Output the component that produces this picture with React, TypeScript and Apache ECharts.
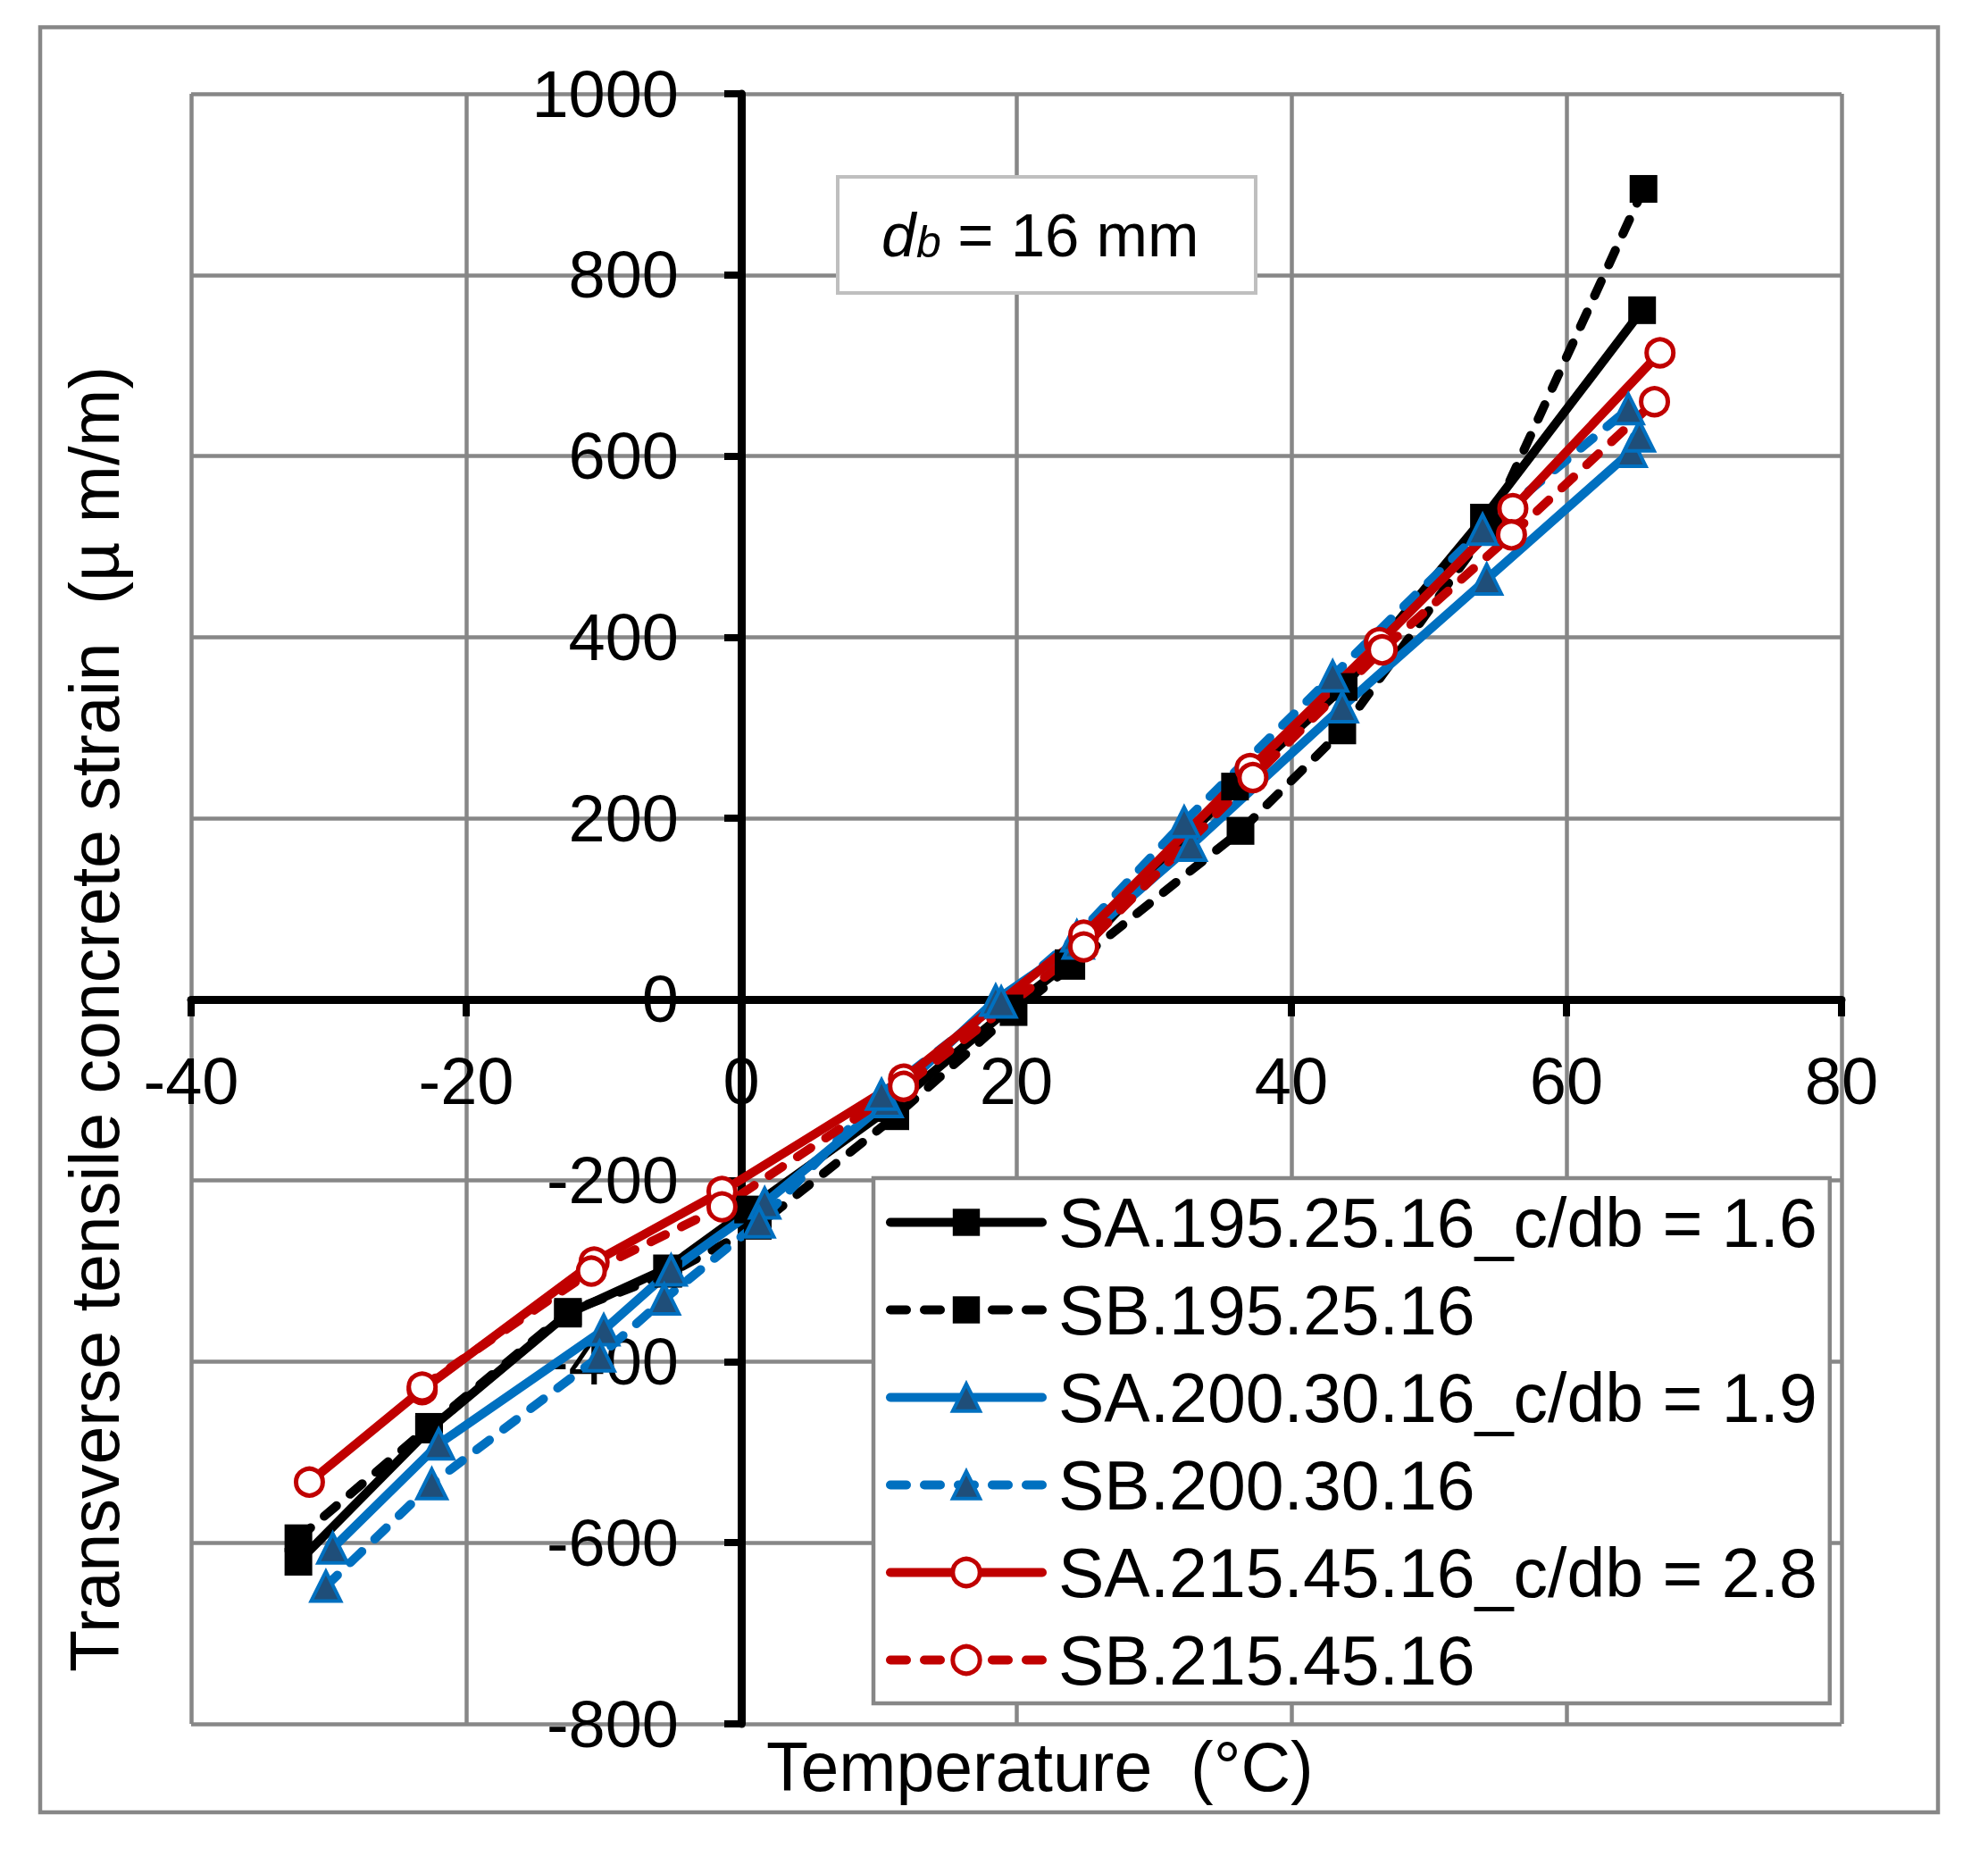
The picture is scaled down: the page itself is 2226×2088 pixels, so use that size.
import React, { useEffect, useRef } from "react";
import * as echarts from "echarts";

// ---- Data (temperature °C, strain µm/m) ----
const seriesNames = [
  "SA.195.25.16_c/db = 1.6",
  "SB.195.25.16",
  "SA.200.30.16_c/db = 1.9",
  "SB.200.30.16",
  "SA.215.45.16_c/db = 2.8",
  "SB.215.45.16",
];

const saBlackT = [-32.2, -22.7, -12.6, -5.4, 0.5, 10.8, 19.5, 23.8, 35.9, 43.8, 54.0, 65.5];
const saBlackV = [-621, -475, -347, -297, -232, -120, -10, 40, 235, 345, 532, 761];

const sbBlackT = [-32.2, -22.7, -12.6, -5.3, 1.2, 11.2, 19.8, 24.0, 36.3, 43.7, 54.3, 65.6];
const sbBlackV = [-595, -472, -345, -303, -250, -129, -14, 37, 186, 297, 520, 895];

const saBlueT = [-29.7, -22.0, -10.0, -5.1, 1.7, 10.6, 18.5, 24.5, 32.7, 43.7, 54.2, 64.7, 65.3];
const saBlueV = [-606, -491, -365, -299, -225, -113, -1, 62, 170, 323, 464, 605, 622];

const sbBlueT = [-30.2, -22.5, -10.3, -5.6, 1.3, 10.2, 18.9, 24.4, 32.2, 43.0, 53.9, 64.5];
const sbBlueV = [-648, -535, -394, -331, -246, -105, -3, 70, 196, 357, 519, 652];

const saRedT = [-31.4, -23.2, -10.7, -1.4, 11.8, 24.9, 37.0, 46.4, 56.1, 66.8];
const saRedV = [-533, -431, -290, -212, -88, 71, 255, 394, 542, 714];

const sbRedT = [-23.2, -10.9, -1.4, 11.8, 24.9, 37.2, 46.6, 56.0, 66.4];
const sbRedV = [-428, -300, -229, -96, 58, 245, 386, 513, 660];

const xMin = -40;
const xMax = 80;
const xStep = 20;
const yMin = -800;
const yMax = 1000;
const yStep = 200;

const xTitle = "Temperature  (°C)";
const yTitle = "Transverse tensile concrete strain  (µ m/m)";

const FONT = "'Liberation Sans', Arial, Helvetica, sans-serif";
const GRID_GRAY = "#878787";
const BLACK = "#000000";
const BLUE = "#0070C0";
const BLUE_FILL = "#1F4E79";
const RED = "#C00000";

// plot-area layout (pixels)
const GRID_LEFT = 214;
const GRID_TOP = 105;
const GRID_W = 1848;
const GRID_H = 1825;

const zip = (t: number[], v: number[]) => t.map((x, i) => [x, v[i]]);

export default function App() {
  const ref = useRef<HTMLDivElement>(null);

  useEffect(() => {
    if (!ref.current) return;
    const chart = echarts.init(ref.current, undefined, { renderer: "svg" });

    // axes cross at (0, 0): shift the axes from the grid edges to the zero lines
    const zeroX = GRID_LEFT + (GRID_W * (0 - xMin)) / (xMax - xMin);
    const zeroY = GRID_TOP + (GRID_H * (yMax - 0)) / (yMax - yMin);
    const xOffset = -(GRID_TOP + GRID_H - zeroY);
    const yOffset = -(zeroX - GRID_LEFT);

    const LW = 10;
    const dash = [18, 20];
    const mk = (
      name: string,
      data: number[][],
      color: string,
      dashed: boolean,
      symbol: string,
      symbolSize: number,
      fill: string,
      border: number
    ) => ({
      name,
      type: "line",
      data,
      symbol,
      symbolSize,
      showSymbol: true,
      clip: false,
      lineStyle: {
        color,
        width: LW,
        type: dashed ? dash : "solid",
        cap: "round",
        join: "round",
      },
      itemStyle: {
        color: fill,
        borderColor: color,
        borderWidth: border,
      },
      emphasis: { disabled: true },
    });

    const series = [
      mk(seriesNames[0], zip(saBlackT, saBlackV), BLACK, false, "rect", 31, BLACK, 0),
      mk(seriesNames[1], zip(sbBlackT, sbBlackV), BLACK, true, "rect", 31, BLACK, 0),
      mk(seriesNames[2], zip(saBlueT, saBlueV), BLUE, false, "triangle", 33, BLUE_FILL, 4),
      mk(seriesNames[3], zip(sbBlueT, sbBlueV), BLUE, true, "triangle", 33, BLUE_FILL, 4),
      mk(seriesNames[4], zip(saRedT, saRedV), RED, false, "circle", 30, "#FFFFFF", 5),
      mk(seriesNames[5], zip(sbRedT, sbRedV), RED, true, "circle", 30, "#FFFFFF", 5),
    ];

    const legendStyles = [
      { color: BLACK, borderColor: BLACK, borderWidth: 0 },
      { color: BLACK, borderColor: BLACK, borderWidth: 0 },
      { color: BLUE_FILL, borderColor: BLUE, borderWidth: 4 },
      { color: BLUE_FILL, borderColor: BLUE, borderWidth: 4 },
      { color: "#FFFFFF", borderColor: RED, borderWidth: 5 },
      { color: "#FFFFFF", borderColor: RED, borderWidth: 5 },
    ];
    const legendLines = [
      { color: BLACK, width: LW, type: "solid", cap: "round" },
      { color: BLACK, width: LW, type: dash, cap: "round" },
      { color: BLUE, width: LW, type: "solid", cap: "round" },
      { color: BLUE, width: LW, type: dash, cap: "round" },
      { color: RED, width: LW, type: "solid", cap: "round" },
      { color: RED, width: LW, type: dash, cap: "round" },
    ];

    const plainNum = (v: number) => String(v);

    const option: any = {
      animation: false,
      backgroundColor: "#FFFFFF",
      textStyle: { fontFamily: FONT },
      grid: {
        left: GRID_LEFT,
        top: GRID_TOP,
        width: GRID_W,
        height: GRID_H,
        containLabel: false,
        outerBoundsMode: "none",
      },
      xAxis: {
        type: "value",
        position: "bottom",
        offset: xOffset,
        min: xMin,
        max: xMax,
        interval: xStep,
        axisLine: { show: true, onZero: false, lineStyle: { color: BLACK, width: 9 } },
        axisTick: { show: true, inside: false, length: 19, lineStyle: { color: BLACK, width: 8 } },
        axisLabel: {
          show: true,
          fontSize: 74,
          color: BLACK,
          margin: 55,
          fontFamily: FONT,
          formatter: plainNum,
        },
        splitLine: { show: true, lineStyle: { color: GRID_GRAY, width: 4.5 } },
      },
      yAxis: {
        type: "value",
        position: "left",
        offset: yOffset,
        min: yMin,
        max: yMax,
        interval: yStep,
        axisLine: { show: true, onZero: false, lineStyle: { color: BLACK, width: 9 } },
        axisTick: { show: true, inside: false, length: 19, lineStyle: { color: BLACK, width: 8 } },
        axisLabel: {
          show: true,
          fontSize: 74,
          color: BLACK,
          margin: 70,
          fontFamily: FONT,
          formatter: plainNum,
        },
        splitLine: { show: true, lineStyle: { color: GRID_GRAY, width: 4.5 } },
      },
      legend: {
        show: true,
        orient: "vertical",
        left: 978,
        top: 1319,
        padding: [11, 14, 10, 14],
        itemWidth: 170,
        itemHeight: 38,
        itemGap: 21,
        selectedMode: false,
        backgroundColor: "#FFFFFF",
        borderColor: GRID_GRAY,
        borderWidth: 4.5,
        borderRadius: 0,
        textStyle: { fontSize: 77, color: BLACK, fontFamily: FONT, padding: [0, 0, 0, 13] },
        data: seriesNames.map((n, i) => ({
          name: n,
          itemStyle: legendStyles[i],
          lineStyle: legendLines[i],
        })),
        z: 10,
      },
      graphic: [
        {
          type: "rect",
          shape: { x: 45, y: 30.5, width: 2125, height: 1998.5 },
          style: { fill: "none", stroke: GRID_GRAY, lineWidth: 4.5 },
          z: 1,
          silent: true,
        },
        {
          type: "rect",
          shape: { x: 938, y: 198, width: 468, height: 130 },
          style: { fill: "#FFFFFF", stroke: "#BFBFBF", lineWidth: 4 },
          z: 5,
          silent: true,
        },
        {
          type: "text",
          x: 987,
          y: 263.5,
          z: 6,
          style: {
            text: "d",
            fontSize: 69,
            fontStyle: "italic",
            fontFamily: FONT,
            fill: BLACK,
            align: "left",
            verticalAlign: "middle",
          },
        },
        {
          type: "text",
          x: 1026,
          y: 271,
          z: 6,
          style: {
            text: "b",
            fontSize: 50,
            fontStyle: "italic",
            fontFamily: FONT,
            fill: BLACK,
            align: "left",
            verticalAlign: "middle",
          },
        },
        {
          type: "text",
          x: 1053,
          y: 263.5,
          z: 6,
          style: {
            text: " = 16 mm",
            fontSize: 69,
            fontFamily: FONT,
            fill: BLACK,
            align: "left",
            verticalAlign: "middle",
          },
        },
        {
          type: "text",
          x: 858,
          y: 1978,
          z: 6,
          style: {
            text: xTitle,
            fontSize: 77,
            fontFamily: FONT,
            fill: BLACK,
            align: "left",
            verticalAlign: "middle",
          },
        },
        {
          type: "text",
          x: 106,
          y: 1141,
          rotation: Math.PI / 2,
          z: 6,
          style: {
            text: yTitle,
            fontSize: 77,
            fontFamily: FONT,
            fill: BLACK,
            align: "center",
            verticalAlign: "middle",
          },
        },
      ],
      series,
    };

    chart.setOption(option);
    return () => chart.dispose();
  }, []);

  return (
    <div
      ref={ref}
      style={{ position: "absolute", left: 0, top: 0, width: 2226, height: 2088, background: "#fff" }}
    />
  );
}
